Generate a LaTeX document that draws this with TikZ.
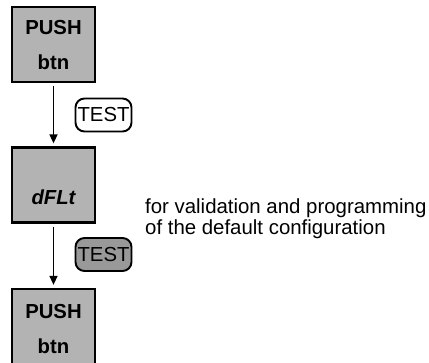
\documentclass[tikz,border=0pt]{standalone}
\usepackage{fontspec}
\setmainfont{Liberation Sans}
\usetikzlibrary{arrows.meta}
\definecolor{boxgray}{HTML}{B3B3B3}
\definecolor{testgray}{HTML}{999999}
\begin{document}
\begin{tikzpicture}[x=1pt,y=-1pt,
  box/.style={draw=black, line width=2.3pt, fill=boxgray, minimum width=83pt, minimum height=75pt, inner sep=0pt},
  boxtext/.style={font=\fontsize{20.3}{35}\selectfont\bfseries, align=center, inner sep=0pt},
  testbox/.style={draw=black, line width=1.9pt, rounded corners=9pt, minimum width=56pt, minimum height=33pt, inner sep=0pt, font=\fontsize{20.3}{24}\selectfont},
  flow/.style={line width=1.5pt, -{Triangle[length=9pt,width=8pt]}, shorten <=3pt, shorten >=3pt},
  note/.style={font=\fontsize{20.4}{21}\selectfont, align=left, anchor=west, inner sep=0pt}]
\useasboundingbox (0,0) rectangle (429,362);
\clip (0,0) rectangle (429,362);
% boxes
\node[box] (b1) at (53.5,44.5) {};
\node[boxtext] (t1) at (53.5,45.5) {PUSH\\btn};
\node[box] (b2) at (53.5,185) {};
\node[boxtext, font=\fontsize{20.3}{35}\selectfont\bfseries\itshape] (t2) at (53.5,197.5) {dFLt};
\node[box] (b3) at (53.5,326.5) {};
\node[boxtext] (t3) at (53.5,329) {PUSH\\btn};
% arrows
\draw[flow] (b1.south) -- (b2.north);
\draw[flow] (b2.south) -- (b3.north);
% test buttons
\node[testbox, fill=white] (k1) at (103.5,115) {TEST};
\node[testbox, fill=testgray] (k2) at (103.5,254.5) {TEST};
% description
\node[note] (d) at (145,219) {for validation and programming\\of the default configuration};
\end{tikzpicture}
\end{document}
